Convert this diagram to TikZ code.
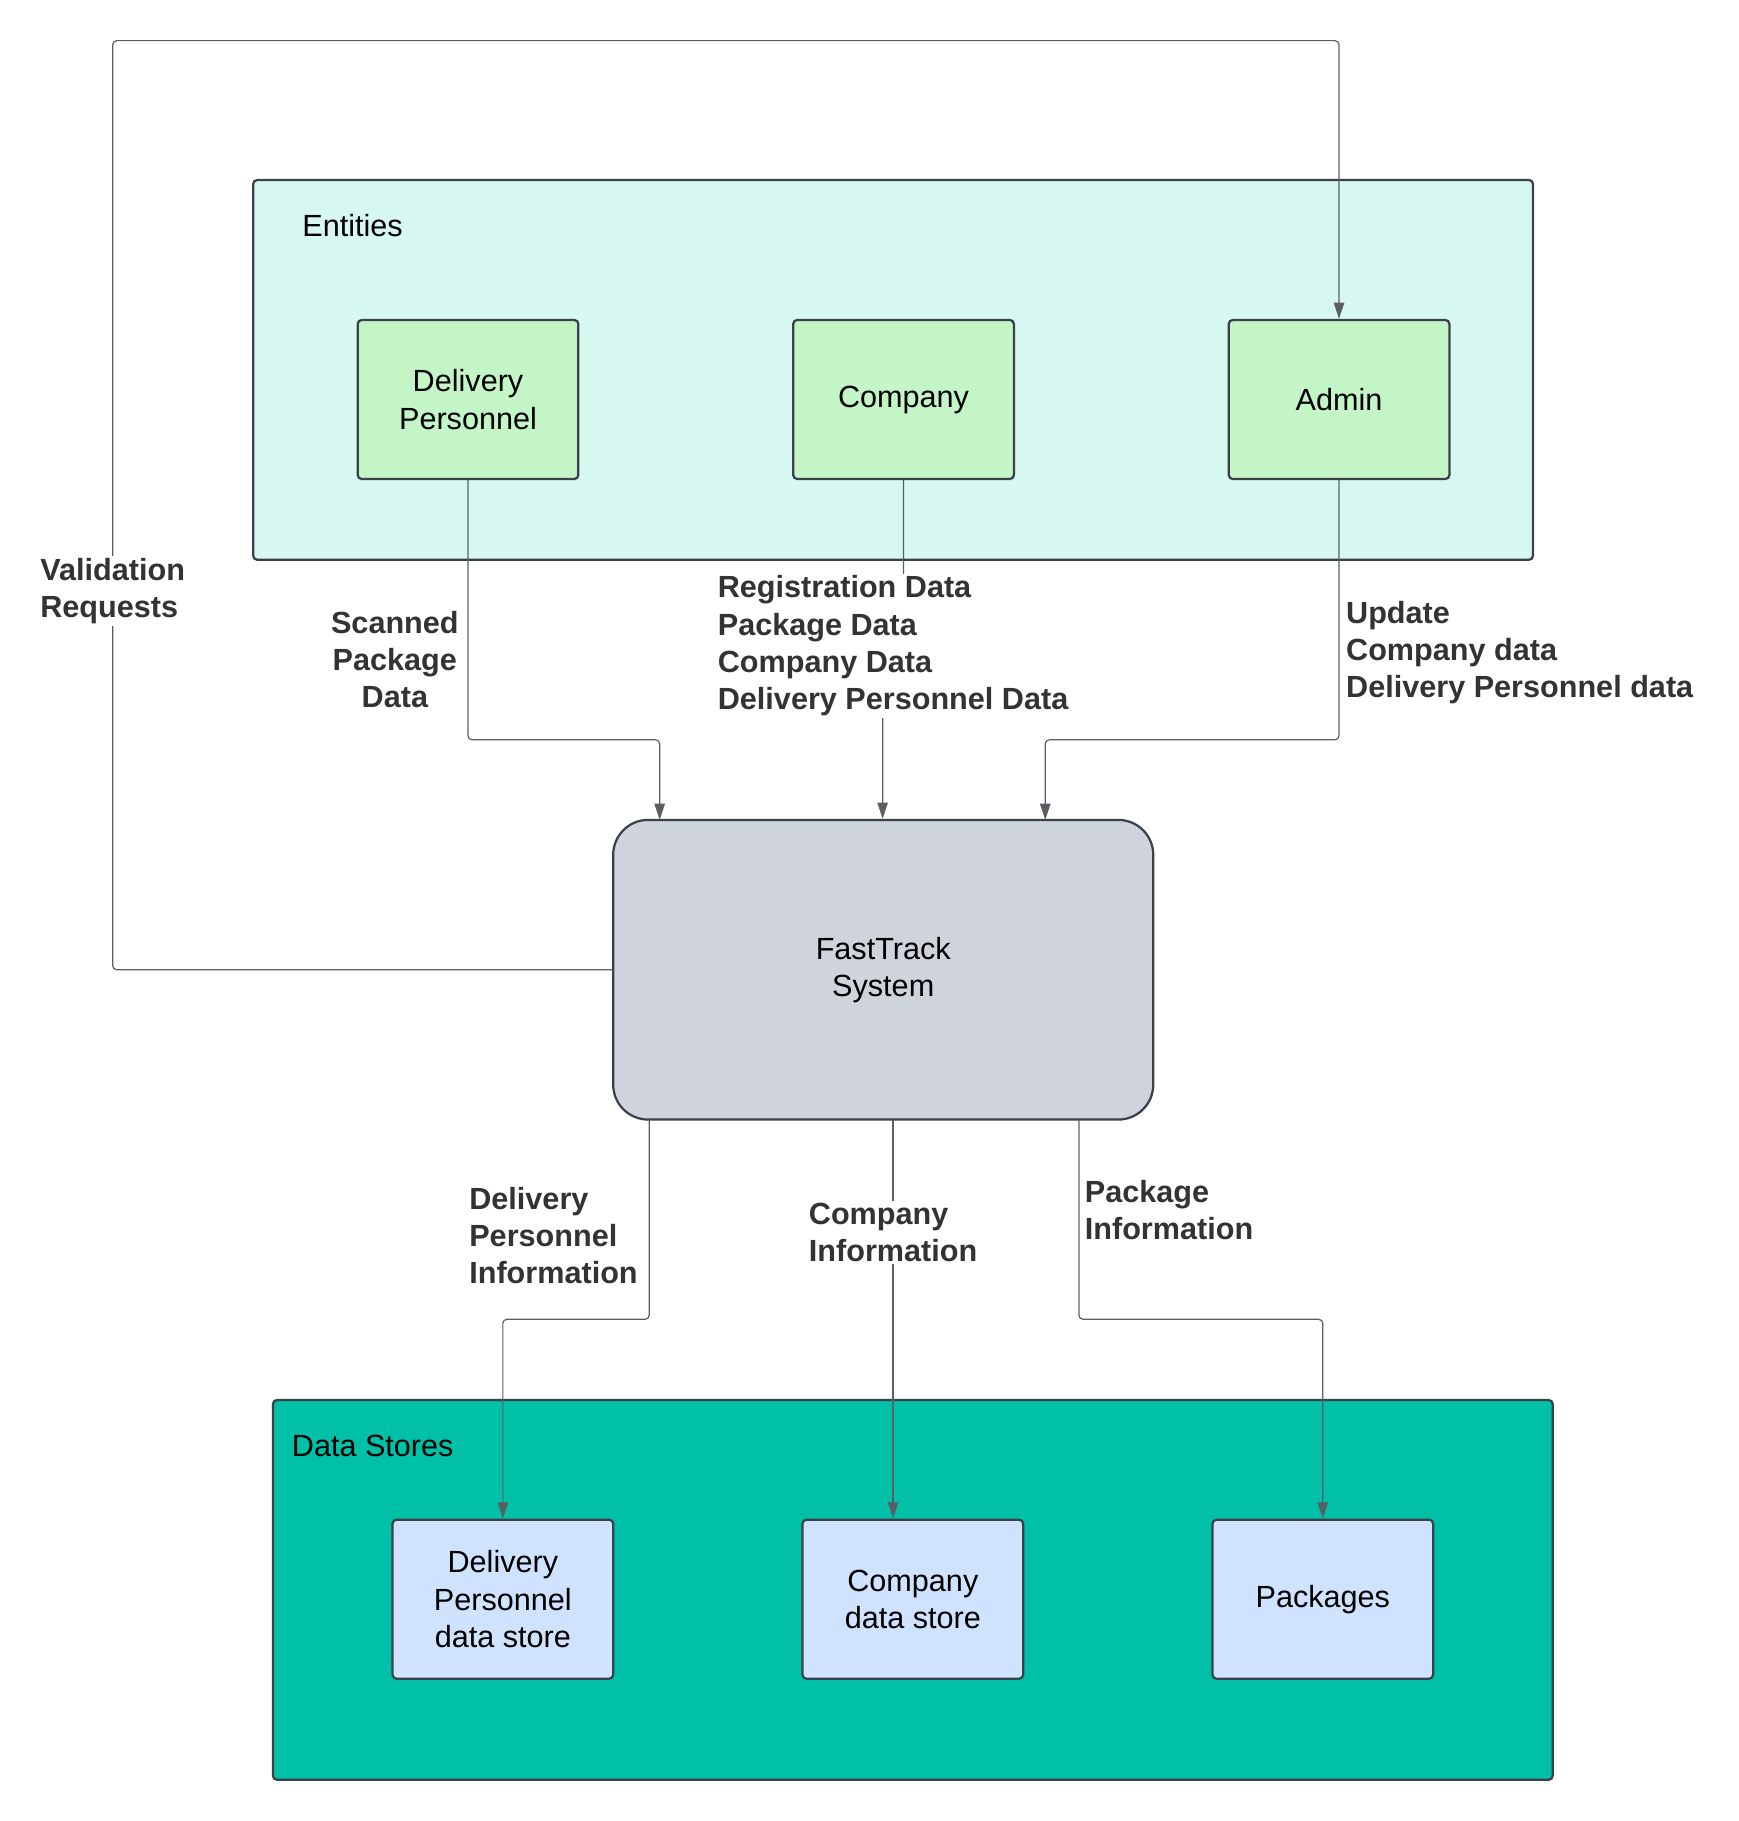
\documentclass[tikz,border=0pt]{standalone}
\usepackage{fontspec}
\setmainfont{Liberation Sans}
\usetikzlibrary{arrows.meta,positioning}
\definecolor{edge}{HTML}{3A414A}
\definecolor{wire}{HTML}{5A5F66}
\definecolor{entbg}{HTML}{D6F8F1}
\definecolor{entfill}{HTML}{C3F5C7}
\definecolor{ftfill}{HTML}{CED3DC}
\definecolor{storebg}{HTML}{00C1A7}
\definecolor{stofill}{HTML}{CFE3FF}
\definecolor{lbltext}{HTML}{333333}
\newcommand{\fsz}{\fontsize{15}{18.2}\selectfont}
\begin{document}
\begin{tikzpicture}[grp/.style={draw=edge,line width=1.1pt,rounded corners=2pt,
		minimum width=22.04cm,minimum height=6.54cm}, ent/.style={draw=edge,line width=1.1pt,
		fill=entfill,rounded corners=2pt,minimum width=3.8cm,minimum height=2.74cm,align=center,font=\fsz},
	sto/.style={ent,fill=stofill}, tip/.style={draw=wire,line width=0.6pt,rounded corners=2pt,
		-{Triangle[length=0.28cm,width=0.18cm]}}, lbl/.style={font=\fsz\bfseries,text=lbltext,align=left,inner sep=1pt}]
	\useasboundingbox (0,0) rectangle (29.94,-31.36);
	\node [grp, fill=entbg] (ents) at (15.38,-6.37) {};
	\node [grp, fill=storebg] (stores) at (15.72,-27.38) {};
	\node [anchor=west, inner sep=0, font=\fsz] (entt) at (5.20,-3.88) {Entities};
	\node [anchor=west, inner sep=0, font=\fsz] (stot) at (5.02,-24.90) {Data Stores};
	\node [ent] (dp) at (8.06,-6.88) {Delivery\\Personnel};
	\node [ent] (co) at (15.56,-6.88) {Company};
	\node [ent] (ad) at (23.06,-6.88) {Admin};
	\node [draw=edge, line width=1.1pt, fill=ftfill, rounded corners=0.6cm, minimum width=9.3cm,
		minimum height=5.16cm, align=center, font=\fsz] (ft) at (15.21,-16.70) {FastTrack\\System};
	\node [sto] (sdp) at (8.66,-27.54) {Delivery\\Personnel\\data store};
	\node [sto] (sco) at (15.72,-27.54) {Company\\data store};
	\node [sto] (spk) at (22.78,-27.54) {Packages};
	\coordinate (vt) at (1.94,-0.70);
	\coordinate (jt) at (0,-12.74);
	\coordinate (jb) at (0,-22.72);
	\coordinate (cj) at (15.20,-11.12);
	\coordinate (in1) at (11.36,-14.12);
	\coordinate (in3) at (18.00,-14.12);
	\coordinate (out1) at (11.18,-19.28);
	\coordinate (out2) at (15.38,-19.28);
	\coordinate (out3) at (18.58,-19.28);
	\draw [tip] (dp.south) |- (jt -| in1) -- (in1);
	\draw [tip] (co.south) |- (cj) -- (ft.north -| cj);
	\draw [tip] (ad.south) |- (jt -| in3) -- (in3);
	\draw [tip] (ft.west) -| (vt) -| (ad.north);
	\draw [tip] (out1) |- (jb -| sdp.north) -- (sdp.north);
	\draw [tip] (out2) -- (sco.north -| out2);
	\draw [tip] (out3) |- (jb -| spk.north) -- (spk.north);
	\node [lbl, fill=white] (vr) at (1.94,-10.18) {Validation\\Requests};
	\node [lbl, align=center] (spd) at (6.80,-11.36) {Scanned\\Package\\Data};
	\node [lbl, fill=white] (rd) at (15.38,-11.12) {Registration Data\\Package Data\\Company Data\\Delivery Personnel Data};
	\node [lbl, anchor=west] (up) at (23.14,-11.24) {Update\\Company data\\Delivery Personnel data};
	\node [lbl, anchor=west] (dpi) at (8.04,-21.28) {Delivery\\Personnel\\Information};
	\node [lbl, fill=white] (ci) at (15.38,-21.22) {Company\\Information};
	\node [lbl, anchor=west] (pi) at (18.64,-20.84) {Package\\Information};
\end{tikzpicture}
\end{document}
